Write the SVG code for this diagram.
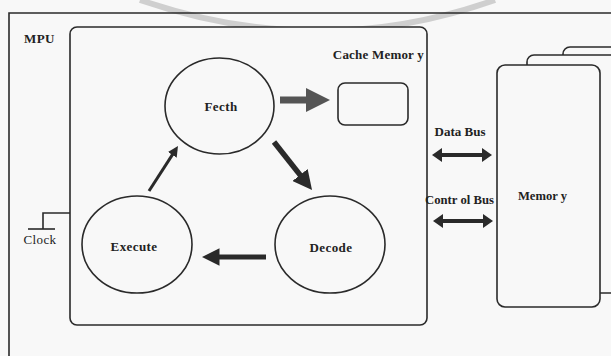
<svg xmlns="http://www.w3.org/2000/svg" width="611" height="356" viewBox="0 0 611 356">
  <style>
    .line { fill: none; stroke: #2a2a2a; stroke-width: 1.6; }
    .box { fill: #f8f8f8; stroke: #2a2a2a; stroke-width: 1.6; }
    .lbl { font-family: "Liberation Serif", "Times New Roman", serif; font-size: 13px; font-weight: bold; fill: #222; letter-spacing: 0.4px; }
  </style>
  <defs>
    <marker id="bushead" viewBox="0 0 2.6 3.6" markerWidth="2.6" markerHeight="3.6" refX="0.5" refY="1.8" orient="auto-start-reverse" markerUnits="strokeWidth">
      <path d="M0,0 L2.6,1.8 L0,3.6 z" fill="#2a2a2a"/>
    </marker>
    <marker id="headDark" viewBox="0 0 3.5 3.5" markerWidth="3.5" markerHeight="3.5" refX="0.5" refY="1.75" orient="auto" markerUnits="strokeWidth">
      <path d="M0,0 L3.5,1.75 L0,3.5 z" fill="#2a2a2a"/>
    </marker>
    <marker id="headGray" viewBox="0 0 3.5 3.5" markerWidth="3.5" markerHeight="3.5" refX="0.5" refY="1.75" orient="auto" markerUnits="strokeWidth">
      <path d="M0,0 L3.5,1.75 L0,3.5 z" fill="#555"/>
    </marker>
  </defs>

  <rect width="611" height="356" fill="#f8f8f8"/>

  <!-- faint stamp arc across the top -->
  <path d="M 140 0 Q 320 62 495 0" fill="none" stroke="#cfcfcf" stroke-width="6"/>

  <!-- MPU frame -->
  <g id="mpu">
    <path class="line" d="M 9 360 V 13 H 615"/>
    <text class="lbl" x="24" y="43">MPU</text>
  </g>

  <!-- processor core -->
  <g id="core">
    <rect class="box" x="70" y="27" width="357" height="298" rx="7"/>
  </g>

  <g id="fetch">
    <ellipse class="box" cx="219.5" cy="106" rx="54.5" ry="48"/>
    <text class="lbl" x="221" y="111" text-anchor="middle">Fecth</text>
  </g>

  <g id="decode">
    <ellipse class="box" cx="330" cy="244.5" rx="55" ry="48.5"/>
    <text class="lbl" x="331" y="252" text-anchor="middle">Decode</text>
  </g>

  <g id="execute">
    <ellipse class="box" cx="137" cy="244.5" rx="55" ry="48.5"/>
    <text class="lbl" x="134" y="251" text-anchor="middle">Execute</text>
  </g>

  <g id="cache">
    <rect class="box" x="338" y="83" width="70" height="42" rx="7"/>
    <text class="lbl" x="424" y="59" text-anchor="end" style="letter-spacing:0.2px">Cache Memor y</text>
  </g>

  <g id="clock">
    <path class="line" d="M 70 213 H 43 V 229"/>
    <path class="line" d="M 28 229 H 55"/>
    <text class="lbl" x="40" y="244" text-anchor="middle" style="font-weight:normal">Clock</text>
  </g>

  <!-- main memory, drawn as a stack of pages -->
  <g id="memory">
    <rect class="box" x="563" y="47" width="80" height="230" rx="7"/>
    <rect class="box" x="527" y="55" width="100" height="238" rx="7"/>
    <rect class="box" x="497" y="65" width="103" height="242" rx="8"/>
    <text class="lbl" x="542.5" y="200" text-anchor="middle" style="letter-spacing:0;font-size:12.6px">Memor y</text>
  </g>

  <!-- bus labels -->
  <g id="buses">
    <text class="lbl" x="460" y="136" text-anchor="middle" style="letter-spacing:0">Data Bus</text>
    <text class="lbl" x="459.5" y="204" text-anchor="middle" style="letter-spacing:0;font-size:12.7px">Contr ol Bus</text>
  </g>

  <!-- connectors -->
  <g id="connectors">
    <line x1="280" y1="100" x2="309" y2="100" stroke="#555" stroke-width="7" marker-end="url(#headGray)"/>
    <line x1="274" y1="142" x2="301.8" y2="177.1" stroke="#2a2a2a" stroke-width="5.5" marker-end="url(#headDark)"/>
    <line x1="266" y1="257" x2="217" y2="257" stroke="#2a2a2a" stroke-width="5" marker-end="url(#headDark)"/>
    <line x1="149" y1="191" x2="173.1" y2="153.6" stroke="#2a2a2a" stroke-width="3" marker-end="url(#headDark)"/>
    <line x1="440.4" y1="155" x2="483.6" y2="155" stroke="#2a2a2a" stroke-width="4" marker-start="url(#bushead)" marker-end="url(#bushead)"/>
    <line x1="441.4" y1="221" x2="484.6" y2="221" stroke="#2a2a2a" stroke-width="4" marker-start="url(#bushead)" marker-end="url(#bushead)"/>
  </g>
</svg>
